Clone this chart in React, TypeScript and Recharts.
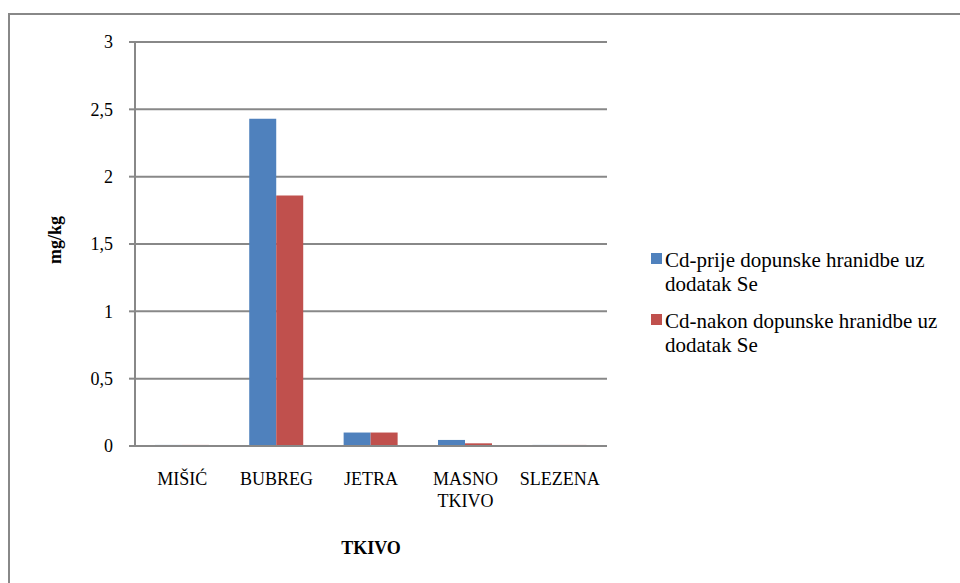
import React from "react"
import { BarChart, Bar, XAxis, YAxis, CartesianGrid } from "recharts"

const tkiva = ["MIŠIĆ", "BUBREG", "JETRA", "MASNO TKIVO", "SLEZENA"]
const cdPrije = [0.008, 2.43, 0.1, 0.045, 0.008]
const cdNakon = [0.008, 1.86, 0.1, 0.02, 0.008]
const yTicks = [0, 0.5, 1, 1.5, 2, 2.5, 3]

const series = [
  { key: "prije", name: "Cd-prije dopunske hranidbe uz dodatak Se", color: "#4F81BD" },
  { key: "nakon", name: "Cd-nakon dopunske hranidbe uz dodatak Se", color: "#C0504D" },
]

const data = tkiva.map((t, i) => ({ tkivo: t, prije: cdPrije[i], nakon: cdNakon[i] }))

const FONT = "Liberation Serif"
const GRID = "#888888"

// category labels, split on spaces so "MASNO TKIVO" goes on two lines
function XTick({ x, y, payload }: any) {
  const lines = String(payload.value).split(" ")
  return (
    <text x={x} y={y} textAnchor="middle" fontSize={18} style={{ fontFamily: FONT }} fill="#000">
      {lines.map((l, i) => (
        <tspan key={i} x={x} dy={i === 0 ? 39 : 22}>
          {l}
        </tspan>
      ))}
    </text>
  )
}

export default function App() {
  return (
    <div
      style={{
        position: "absolute",
        left: 0,
        top: 0,
        width: 960,
        height: 583,
        overflow: "hidden",
        background: "#fff",
        fontFamily: FONT,
      }}
    >
      <div
        style={{
          position: "absolute",
          left: 8,
          top: 13,
          width: 1000,
          height: 700,
          border: `2px solid ${GRID}`,
        }}
      />
      <div style={{ position: "absolute", left: 0, top: 0 }}>
        <BarChart
          width={960}
          height={583}
          data={data}
          margin={{ top: 42, right: 353, bottom: 0, left: 0 }}
          barCategoryGap="21%"
          barGap={0}
          style={{ fontFamily: FONT }}
        >
          <CartesianGrid vertical={false} stroke={GRID} strokeWidth={2} />
          <XAxis
            dataKey="tkivo"
            height={137}
            axisLine={{ stroke: GRID, strokeWidth: 2 }}
            tickLine={false}
            tickSize={0}
            tickMargin={0}
            interval={0}
            tick={<XTick />}
            label={{
              value: "TKIVO",
              content: ({ viewBox }: any) => (
                <text
                  x={viewBox.x + viewBox.width / 2}
                  y={viewBox.y + 108}
                  textAnchor="middle"
                  fontSize={18}
                  fontWeight="bold"
                  style={{ fontFamily: FONT }}
                  fill="#000"
                >
                  TKIVO
                </text>
              ),
            }}
          />
          <YAxis
            width={135}
            domain={[0, 3]}
            ticks={yTicks}
            interval={0}
            axisLine={{ stroke: GRID, strokeWidth: 2 }}
            tickLine={{ stroke: GRID, strokeWidth: 2 }}
            tickSize={6}
            tickMargin={16}
            tick={{ fill: "#000", fontSize: 18, style: { fontFamily: FONT } }}
            tickFormatter={(v: number) => String(v).replace(".", ",")}
            label={{
              value: "mg/kg",
              content: ({ viewBox }: any) => {
                const cx = viewBox.x + 61
                const cy = viewBox.y + viewBox.height / 2 - 4
                return (
                  <text
                    x={cx}
                    y={cy}
                    transform={`rotate(-90 ${cx} ${cy})`}
                    textAnchor="middle"
                    fontSize={18}
                    fontWeight="bold"
                    style={{ fontFamily: FONT }}
                    fill="#000"
                  >
                    mg/kg
                  </text>
                )
              },
            }}
          />
          {series.map((s) => (
            <Bar key={s.key} dataKey={s.key} name={s.name} fill={s.color} isAnimationActive={false} />
          ))}
        </BarChart>
      </div>
      <div style={{ position: "absolute", left: 651, top: 248, width: 300 }}>
        {series.map((s) => (
          <div
            key={s.key}
            style={{
              position: "relative",
              height: 61,
              paddingLeft: 14,
              fontSize: 21,
              lineHeight: "24px",
              color: "#000",
            }}
          >
            <span
              style={{ position: "absolute", left: 0, top: 5, width: 11, height: 11, background: s.color }}
            />
            {s.name}
          </div>
        ))}
      </div>
    </div>
  )
}
